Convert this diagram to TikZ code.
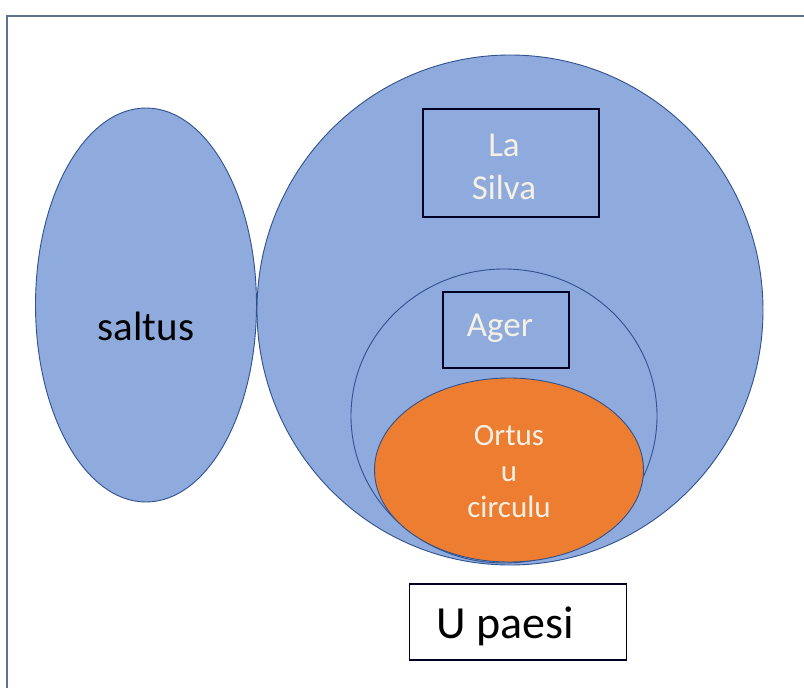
\documentclass[tikz,border=0pt]{standalone}
\usepackage{fontspec}
\setmainfont{Carlito}
\usetikzlibrary{shapes.geometric}
\definecolor{zonefill}{HTML}{8FAADC}
\definecolor{zoneline}{HTML}{2F528F}
\definecolor{ortusfill}{HTML}{ED7D31}
\definecolor{framecol}{HTML}{5B7290}
\definecolor{lighttext}{HTML}{F4F1E4}
\tikzset{
  zone/.style={ellipse, draw=zoneline, fill=zonefill, line width=0.9pt, inner sep=0pt},
  tag/.style={draw=black!85!blue, line width=1.6pt, inner sep=0pt},
  lighttag/.style={text=lighttext, font=\fontsize{35}{43}\selectfont, align=center}
}
\begin{document}
\begin{tikzpicture}[x=1pt, y=-1pt]
\useasboundingbox (0,0) rectangle (804,688);
\fill[white] (0,0) rectangle (804,688);
\draw[framecol, line width=2pt] (804,16) -- (7,16) -- (7,688);

% the lands outside and round the village
\node[zone, minimum width=221pt, minimum height=394pt] (saltus) at (146,305) {};
\node[zone, minimum width=506pt, minimum height=510pt] (silva) at (510,310) {};
\node[tag, fill=zonefill, minimum width=176pt, minimum height=108pt] (silvabox) at (511,163) {};
\node[zone, minimum width=306pt, minimum height=294pt] (ager) at (504,416) {};
\node[tag, fill=zonefill, minimum width=126pt, minimum height=76pt] (agerbox) at (506,330) {};
\node[ellipse, draw=zoneline, fill=ortusfill, line width=0.9pt, inner sep=0pt,
      minimum width=269pt, minimum height=184pt] (ortus) at (509,470) {};
\node[tag, fill=white, minimum width=217pt, minimum height=76pt] (paesibox) at (518,622) {};

% texts
\node[font=\fontsize{41}{49}\selectfont] (saltustxt) at (146,326) {saltus};
\node[lighttag] (silvatxt) at (504,167) {La\\Silva};
\node[lighttag] (agertxt) at (500,328) {Ager};
\node[lighttag, font=\fontsize{31}{36}\selectfont] (ortustxt) at (509,472) {Ortus\\u\\circulu};
\node[font=\fontsize{46}{54}\selectfont] (paesitxt) at (505,626) {U paesi};
\end{tikzpicture}
\end{document}
